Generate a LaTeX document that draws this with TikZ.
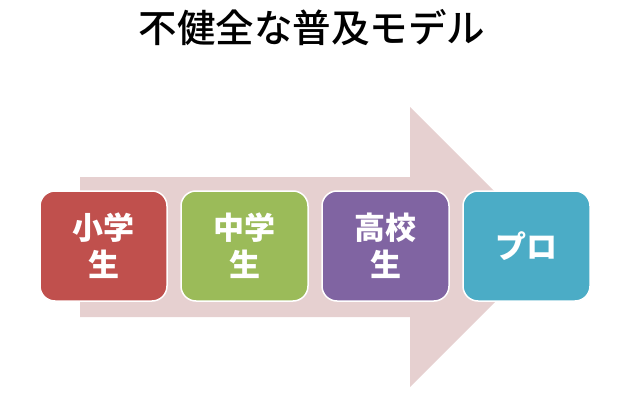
\documentclass[tikz,border=0pt]{standalone}
\usepackage{fontspec}
\setmainfont{Noto Sans CJK JP}
\newfontfamily\titlefont{Noto Sans CJK JP Medium}
\definecolor{arrowpink}{HTML}{E6D0D0}
\definecolor{boxred}{HTML}{C0504D}
\definecolor{boxgreen}{HTML}{9BBB59}
\definecolor{boxpurple}{HTML}{8064A2}
\definecolor{boxteal}{HTML}{4BACC6}
\tikzset{
  stagebox/.style={draw=white, line width=1.5pt, rounded corners=15pt,
    minimum width=127pt, minimum height=110pt, inner sep=0pt,
    text=white, font=\fontsize{31}{37}\selectfont\bfseries, align=center},
  titletext/.style={font=\titlefont\fontsize{38.5}{40}\selectfont, text=black}
}
\begin{document}
\begin{tikzpicture}[x=1pt,y=-1pt]
\useasboundingbox (0,0) rectangle (640,404);
% big arrow
\fill[arrowpink] (80,177) -- (410,177) -- (410,107) -- (550,247) -- (410,387) -- (410,317) -- (80,317) -- cycle;
% title
\node[titletext] (title) at (312,28) {不健全な普及モデル};
% stage boxes
\node[stagebox, fill=boxred] (b1) at (103.5,246) {小学\\生};
\node[stagebox, fill=boxgreen] (b2) at (244.5,246) {中学\\生};
\node[stagebox, fill=boxpurple] (b3) at (385.5,246) {高校\\生};
\node[stagebox, fill=boxteal] (b4) at (526.5,246) {プロ};
\end{tikzpicture}
\end{document}
